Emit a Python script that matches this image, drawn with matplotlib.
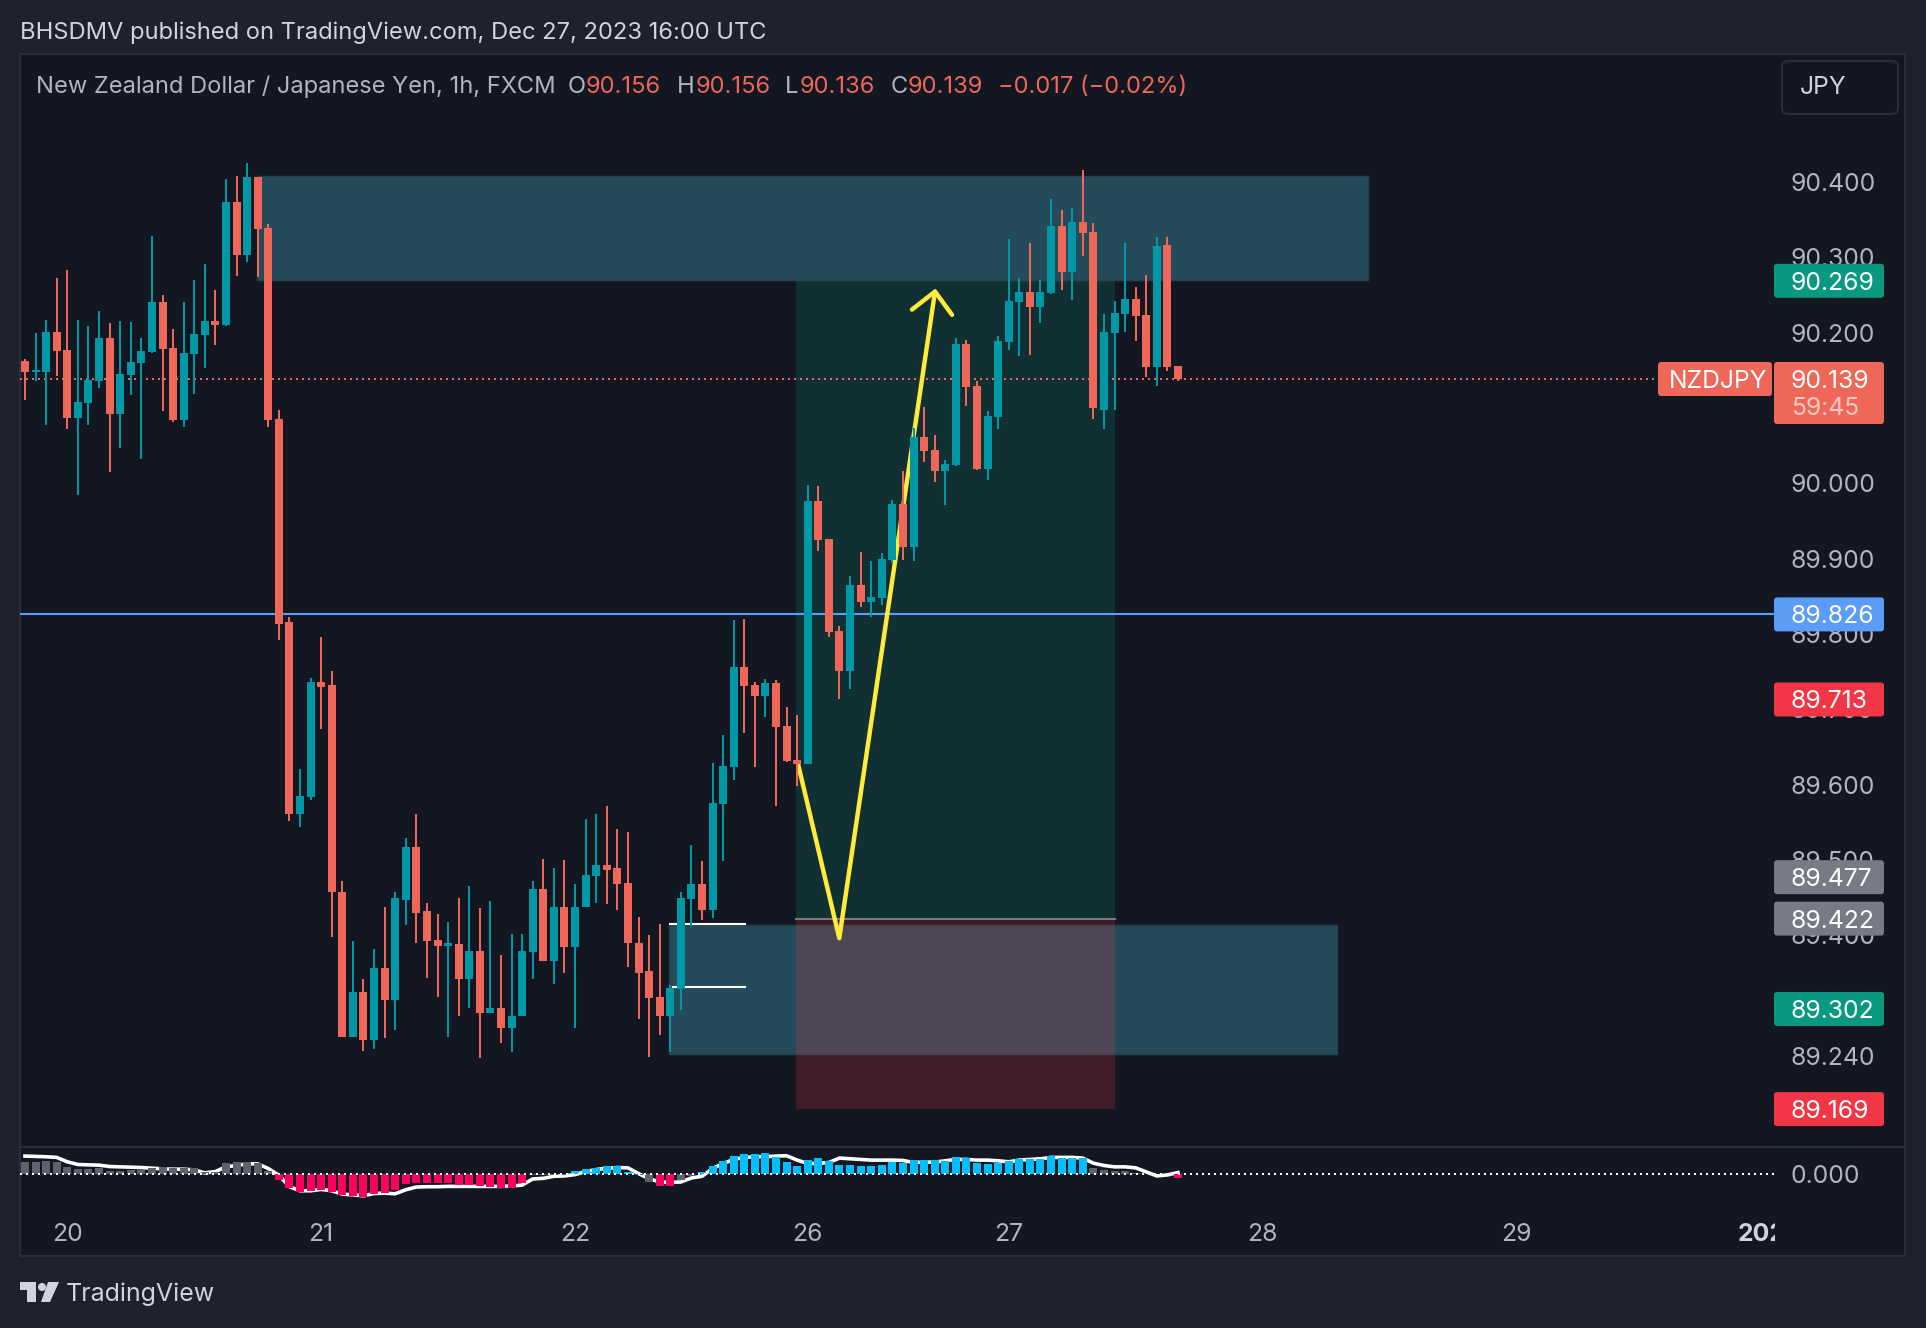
import matplotlib
matplotlib.use("Agg")
import matplotlib.pyplot as plt
from matplotlib.patches import Rectangle, FancyBboxPatch, Polygon, Circle

plt.rcParams['font.family'] = ['Inter', 'DejaVu Sans']

opens = [90.163,90.148,90.148,90.201,90.177,90.087,90.107,90.136,90.193,90.092,
         90.144,90.160,90.175,90.241,90.180,90.084,90.172,90.197,90.216,90.210,
         90.374,90.304,90.408,90.340,90.085,89.815,89.559,89.582,89.735,89.731,
         89.456,89.263,89.322,89.259,89.354,89.312,89.445,89.515,89.430,89.391,
         89.384,89.386,89.340,89.377,89.295,89.301,89.275,89.290,89.376,89.459,
         89.364,89.435,89.382,89.435,89.477,89.492,89.487,89.467,89.388,89.350,
         89.316,89.290,89.326,89.446,89.466,89.431,89.573,89.622,89.755,89.731,
         89.717,89.734,89.677,89.631,89.626,89.976,89.926,89.803,89.750,89.864,
         89.842,89.847,89.898,89.972,89.915,90.061,90.044,90.016,90.024,90.185,
         90.129,90.019,90.088,90.188,90.241,90.254,90.234,90.253,90.342,90.281,
         90.348,90.334,90.097,90.200,90.225,90.245,90.224,90.154,90.317,90.156]
highs = [90.165,90.200,90.217,90.273,90.284,90.217,90.209,90.229,90.213,90.216,
         90.215,90.193,90.329,90.250,90.205,90.241,90.270,90.292,90.257,90.405,
         90.409,90.426,90.408,90.345,90.097,89.822,89.619,89.741,89.795,89.750,
         89.470,89.390,89.339,89.380,89.436,89.455,89.528,89.560,89.441,89.426,
         89.415,89.447,89.464,89.434,89.443,89.371,89.399,89.400,89.470,89.499,
         89.488,89.498,89.466,89.553,89.559,89.570,89.540,89.536,89.422,89.398,
         89.413,89.332,89.455,89.518,89.497,89.627,89.665,89.818,89.819,89.735,
         89.739,89.738,89.702,89.691,89.998,89.996,89.926,89.810,89.876,89.908,
         89.896,89.907,89.978,90.016,90.073,90.101,90.064,90.031,90.193,90.190,
         90.136,90.096,90.196,90.325,90.273,90.320,90.270,90.378,90.364,90.366,
         90.417,90.346,90.225,90.242,90.320,90.261,90.277,90.328,90.328,90.156]
lows = [90.111,90.136,90.077,90.143,90.072,89.984,90.077,90.127,90.015,90.047,
        90.117,90.032,90.173,90.096,90.081,90.075,90.119,90.153,90.184,90.209,
        90.276,90.294,90.274,90.075,89.791,89.550,89.542,89.578,89.672,89.395,
        89.263,89.263,89.244,89.247,89.261,89.272,89.412,89.388,89.341,89.316,
        89.263,89.291,89.301,89.235,89.295,89.254,89.243,89.290,89.339,89.363,
        89.333,89.347,89.274,89.435,89.441,89.439,89.432,89.355,89.287,89.236,
        89.265,89.242,89.298,89.410,89.418,89.421,89.497,89.605,89.667,89.622,
        89.689,89.570,89.629,89.597,89.626,89.910,89.795,89.712,89.726,89.835,
        89.822,89.838,89.894,89.898,89.896,90.028,90.001,89.971,90.023,90.103,
        90.017,90.004,90.072,90.177,90.169,90.170,90.213,90.252,90.257,90.244,
        90.302,90.085,90.072,90.097,90.201,90.189,90.141,90.129,90.149,90.136]
closes = [90.148,90.151,90.201,90.176,90.087,90.108,90.137,90.193,90.092,90.145,
          90.161,90.176,90.241,90.179,90.084,90.173,90.198,90.216,90.210,90.374,
          90.304,90.408,90.338,90.084,89.813,89.559,89.583,89.735,89.729,89.455,
          89.263,89.322,89.259,89.354,89.312,89.447,89.515,89.428,89.390,89.383,
          89.387,89.340,89.377,89.295,89.301,89.275,89.291,89.377,89.459,89.364,
          89.435,89.382,89.436,89.478,89.492,89.485,89.466,89.387,89.348,89.315,
          89.290,89.328,89.447,89.466,89.431,89.574,89.623,89.755,89.730,89.717,
          89.734,89.675,89.630,89.626,89.976,89.924,89.802,89.750,89.864,89.842,
          89.848,89.899,89.972,89.915,90.061,90.043,90.016,90.025,90.185,90.128,
          90.019,90.089,90.189,90.242,90.254,90.234,90.254,90.342,90.281,90.348,
          90.333,90.100,90.201,90.226,90.245,90.222,90.154,90.316,90.154,90.139]

hist = [35,35,38,35,21,14,14,19,8,8,11,11,18,20,18,18,18,6,6,31,34,36,31,8,
        -19,-42,-54,-52,-48,-54,-63,-66,-70,-59,-58,-47,-31,-28,-28,-28,-28,-33,-32,-36,-40,-42,-42,-28,
        -2,-2,-2,-2,8,14,18,23,23,6,-3,-24,-37,-37,-17,-5,6,23,38,53,59,59,62,49,35,24,41,47,38,26,26,23,
        23,26,35,32,41,41,41,38,50,47,32,29,32,38,44,44,44,53,47,47,47,17,11,8,8,2,1,1,1,-13]
smooth = [53,52,51,49,36,28,27,26,22,21,20,19,17,15,14,14,12,3,7,21,25,30,30,16,
          -4,-38,-50,-50,-46,-50,-60,-62,-65,-58,-57,-59,-47,-39,-38,-38,-37,-37,-37,-37,-37,-37,-36,-33,
          -15,-13,-7,-6,-2,7,13,17,19,18,1,-14,-24,-25,-24,-12,-7,16,31,43,49,51,51,53,54,41,31,31,34,47,45,43,
          41,41,41,40,34,35,35,39,43,43,41,41,39,36,41,43,45,49,49,49,47,32,25,21,21,18,6,-6,-3,4]

price_ticks = ['90.400','90.300','90.200','90.000','89.900','89.800','89.700','89.600','89.500','89.400','89.300','89.240']
time_ticks = [4, 28, 52, 74, 93, 117, 141, 165]
time_labels = ['20', '21', '22', '26', '27', '28', '29', '2024']
tags = [('90.269', '#089981'), ('89.826', '#5b9cf6'), ('89.713', '#f23645'), ('89.477', '#787b86'),
        ('89.422', '#787b86'), ('89.302', '#089981'), ('89.169', '#f23645')]
path_x = [73.08, 76.98, 86.03]
path_y = [89.626, 89.394, 90.255]
head_x = [83.85, 86.03, 87.64]
head_y = [90.231, 90.255, 90.224]

W, H = 1926, 1328
BG, OUTER, EDGE = '#131722', '#1e222d', '#2a2e39'
UP, DOWN = '#0097a7', '#ee6759'
TXT = '#b2b5be'
F = 'Inter'
FS_AXIS = 17.8
FS_HEAD = 17.05
DY = 2.5

def pane(l, t, r, b, **kw):
    return plt.gcf().add_axes([l / W, 1 - b / H, (r - l) / W, (b - t) / H], **kw)

fig = plt.figure(figsize=(W / 100, H / 100), dpi=100, facecolor=OUTER)

frame = pane(0, 0, W, H, zorder=0)
frame.set_xlim(0, W); frame.set_ylim(H, 0); frame.axis('off')
frame.add_patch(Rectangle((20, 54), 1885, 1202, fc=BG, ec=EDGE, lw=1.5))
frame.plot([20, 1905], [1147, 1147], color=EDGE, lw=1.5)

XLIM = (-0.473, 165.44)
BAR_W = 0.756
ax = pane(20, 55, 1775, 1146, zorder=1)
ax.patch.set_visible(False)
ax.set_xlim(*XLIM); ax.set_ylim(89.1173, 90.5700); ax.axis('off')

# zones
ZONE = '#4fc1dd'
for (x0, x1, y0, y1) in [(21.93, 126.96, 90.271, 90.409), (60.9, 124.0, 89.2395, 89.4115)]:
    ax.add_patch(Rectangle((x0, y0), x1 - x0, y1 - y0, fc=ZONE, alpha=0.3, lw=0, zorder=1))
    ax.add_patch(Rectangle((x0, y0), x1 - x0, y1 - y0, fc='none', ec='#24414f', lw=1.0, zorder=1.1))
ax.add_patch(Rectangle((72.9, 89.420), 30.15, 90.271 - 89.420, fc='#089981', alpha=0.2, lw=0, zorder=1.2))
ax.add_patch(Rectangle((72.9, 89.1665), 30.15, 89.420 - 89.1665, fc='#f23645', alpha=0.2, lw=0, zorder=1.3))
ax.plot([72.9, 103.05], [89.420, 89.420], color='#787b86', lw=1.5, zorder=2)
ax.plot([72.9, 103.05], [90.271, 90.271], color='#1f4a48', lw=1.0, zorder=2)

# horizontal lines
ax.axhline(89.826, color='#5b9cf6', lw=1.5, zorder=3)
ax.plot([XLIM[0], 155.9], [90.139, 90.139], color=DOWN, lw=1.44, ls=(0, (1, 2)), zorder=3)
ax.plot([60.97, 68.07], [89.413, 89.413], color='white', lw=1.5, zorder=3)
ax.plot([61.3, 68.07], [89.329, 89.329], color='white', lw=1.5, zorder=3)

# path
ax.plot(path_x, path_y, color='#ffeb3b', lw=3.2, zorder=3.5, solid_joinstyle='round', solid_capstyle='round')
ax.plot(head_x, head_y, color='#ffeb3b', lw=3.2, zorder=3.5, solid_joinstyle='round', solid_capstyle='round')

# candles
idx = list(range(len(opens)))
cols = [UP if c >= o else DOWN for o, c in zip(opens, closes)]
ax.vlines(idx, lows, highs, colors=cols, lw=1.44, zorder=5)
ax.bar(idx, [abs(c - o) for o, c in zip(opens, closes)], bottom=[min(o, c) for o, c in zip(opens, closes)],
       width=BAR_W, color=cols, lw=0, zorder=6)

# indicator pane
ind = pane(20, 1148, 1775, 1216, zorder=1)
ind.patch.set_visible(False)
ind.set_xlim(*XLIM); ind.set_ylim(-125, 77); ind.axis('off')
ind.plot(idx, smooth, color='white', lw=2.6, zorder=3)
ind.axhline(0, color='white', lw=1.44, ls=(0, (1, 2)), zorder=6)
hcols = []
for i, v in enumerate(hist):
    if v >= 0:
        hcols.append('#00bfff' if 52 <= i <= 57 or 64 <= i <= 100 else '#5f626d')
    else:
        hcols.append('#ff0060' if 24 <= i <= 47 or i in (60, 61, 109) else '#5f626d')
ind.bar(idx, hist, width=BAR_W, color=hcols, lw=0, zorder=4)

# time axis
tax = pane(20, 1216, 1775, 1255, zorder=1)
tax.patch.set_visible(False)
tax.set_xlim(*XLIM); tax.set_ylim(1, 0); tax.axis('off')
for x, s in zip(time_ticks, time_labels):
    tax.text(x, 0.48, s, color=TXT if s != '2024' else '#d1d4dc', fontsize=FS_AXIS, fontweight='bold' if s == '2024' else 'normal',
             ha='center', va='center', family=F, clip_on=True)

# chrome and labels
top = pane(0, 0, W, H, zorder=10)
top.set_xlim(0, W); top.set_ylim(H, 0); top.axis('off'); top.patch.set_visible(False)

def price_to_y(p):
    return 378.7 - (p - 90.139) * 753

def label(x, y, s, color, fs=FS_AXIS, z=3):
    top.text(x, y + DY, s, color=color, fontsize=fs, va='center', ha='left', family=F, zorder=z)

for s in price_ticks:
    label(1791, price_to_y(float(s)), s, TXT, z=1)
label(1791, 1173.7, '0.000', TXT, z=1)

def box(x0, y0, x1, y1, color, z=2):
    top.add_patch(FancyBboxPatch((x0 + 2, y0 + 2), x1 - x0 - 4, y1 - y0 - 4,
                                 boxstyle='round,pad=2,rounding_size=3', fc=color, ec='none', zorder=z))

for s, c in tags:
    y = price_to_y(float(s))
    box(1774, y - 17, 1884, y + 17, c)
    label(1791, y, s, 'white')
box(1774, 362, 1884, 424, DOWN)
box(1658, 362, 1772, 396, DOWN)
label(1791, 378.7, '90.139', 'white')
label(1791, 406, '59:45', '#f8c9c3')
label(1669, 378.7, 'NZDJPY', 'white')

top.add_patch(FancyBboxPatch((1784, 63), 112, 49, boxstyle='round,pad=2,rounding_size=6', fc='none', ec=EDGE, lw=1.5))
label(1800, 85.5, 'JPY', '#d1d4dc')

label(20, 30, 'BHSDMV published on TradingView.com, Dec 27, 2023 16:00 UTC', '#d1d4dc', fs=FS_HEAD)
label(36, 84.5, 'New Zealand Dollar / Japanese Yen, 1h, FXCM', TXT, fs=FS_HEAD)
legend = [(568, 'O', TXT), (586, '90.156', DOWN), (677, 'H', TXT), (696, '90.156', DOWN), (785, 'L', TXT),
          (800, '90.136', DOWN), (891, 'C', TXT), (908, '90.139', DOWN), (998, '\u22120.017 (\u22120.02%)', DOWN)]
for x, s, c in legend:
    label(x, 84.5, s, c, fs=FS_HEAD)

# logo
LOGO = '#d1d4dc'
top.add_patch(Polygon([(20, 1282), (36, 1282), (36, 1302), (27, 1302), (27, 1290), (20, 1290)], fc=LOGO, ec='none'))
top.add_patch(Circle((42, 1287), 4, fc=LOGO, ec='none'))
top.add_patch(Polygon([(48, 1282), (59, 1282), (50, 1302), (41, 1302)], fc=LOGO, ec='none'))
label(66, 1291.5, 'TradingView', LOGO, fs=18)

fig.savefig('out.png', dpi=100, facecolor=OUTER)
